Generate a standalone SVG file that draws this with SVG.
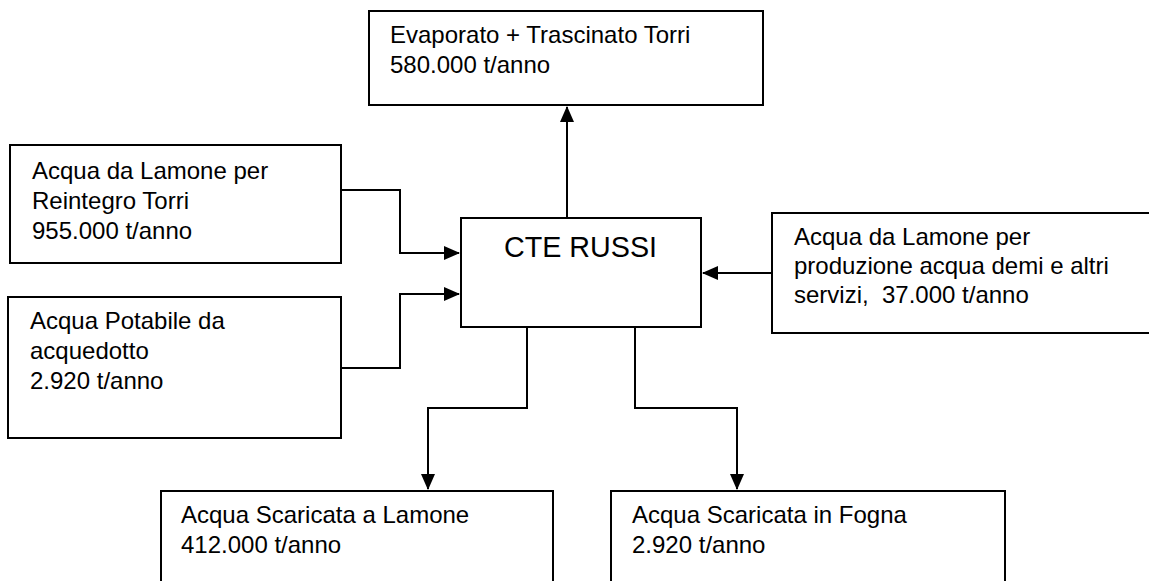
<svg xmlns="http://www.w3.org/2000/svg" width="1149" height="581" viewBox="0 0 1149 581">
  <style>
    .box { fill: #ffffff; stroke: #000000; stroke-width: 2; }
    .lbl { font-family: "Liberation Sans", Arial, sans-serif; font-size: 24px; fill: #000000; }
    .title { font-family: "Liberation Sans", Arial, sans-serif; font-size: 30px; fill: #000000; }
    .conn { fill: none; stroke: #000000; stroke-width: 2; marker-end: url(#arrow); }
  </style>
  <defs>
    <marker id="arrow" markerUnits="userSpaceOnUse" markerWidth="16" markerHeight="14" viewBox="0 0 16 14" refX="15" refY="7" orient="auto">
      <path d="M0,0 L16,7 L0,14 Z" fill="#000000"/>
    </marker>
  </defs>
  <rect x="0" y="0" width="1149" height="581" fill="#ffffff"/>

  <g id="connectors">
    <path class="conn" d="M567,218 V107"/>
    <path class="conn" d="M341,190 H400 V253 H459"/>
    <path class="conn" d="M341,368 H400 V294 H459"/>
    <path class="conn" d="M772,273 H703"/>
    <path class="conn" d="M527,327 V408 H428 V489"/>
    <path class="conn" d="M635,327 V408 H737 V489"/>
  </g>

  <g id="node-evaporato">
    <rect class="box" x="369" y="11" width="394" height="94"/>
    <text class="lbl" x="390" y="43">Evaporato + Trascinato Torri</text>
    <text class="lbl" x="390" y="73">580.000 t/anno</text>
  </g>

  <g id="node-reintegro">
    <rect class="box" x="10" y="145" width="331" height="118"/>
    <text class="lbl" x="32" y="179">Acqua da Lamone per</text>
    <text class="lbl" x="32" y="209">Reintegro Torri</text>
    <text class="lbl" x="32" y="239">955.000 t/anno</text>
  </g>

  <g id="node-potabile">
    <rect class="box" x="8" y="297" width="333" height="141"/>
    <text class="lbl" x="30" y="329">Acqua Potabile da</text>
    <text class="lbl" x="30" y="359">acquedotto</text>
    <text class="lbl" x="30" y="389">2.920 t/anno</text>
  </g>

  <g id="node-cte">
    <rect class="box" x="461" y="218" width="240" height="109"/>
    <text class="title" x="504" y="257" textLength="153" lengthAdjust="spacingAndGlyphs">CTE RUSSI</text>
  </g>

  <g id="node-demi">
    <rect class="box" x="772" y="213" width="385" height="120"/>
    <text class="lbl" x="794" y="245">Acqua da Lamone per</text>
    <text class="lbl" x="794" y="274">produzione acqua demi e altri</text>
    <text class="lbl" x="794" y="303" xml:space="preserve">servizi,  37.000 t/anno</text>
  </g>

  <g id="node-scarico-lamone">
    <rect class="box" x="161" y="491" width="392" height="100"/>
    <text class="lbl" x="181" y="523">Acqua Scaricata a Lamone</text>
    <text class="lbl" x="181" y="553">412.000 t/anno</text>
  </g>

  <g id="node-scarico-fogna">
    <rect class="box" x="611" y="491" width="394" height="100"/>
    <text class="lbl" x="632" y="523">Acqua Scaricata in Fogna</text>
    <text class="lbl" x="632" y="553">2.920 t/anno</text>
  </g>
</svg>
